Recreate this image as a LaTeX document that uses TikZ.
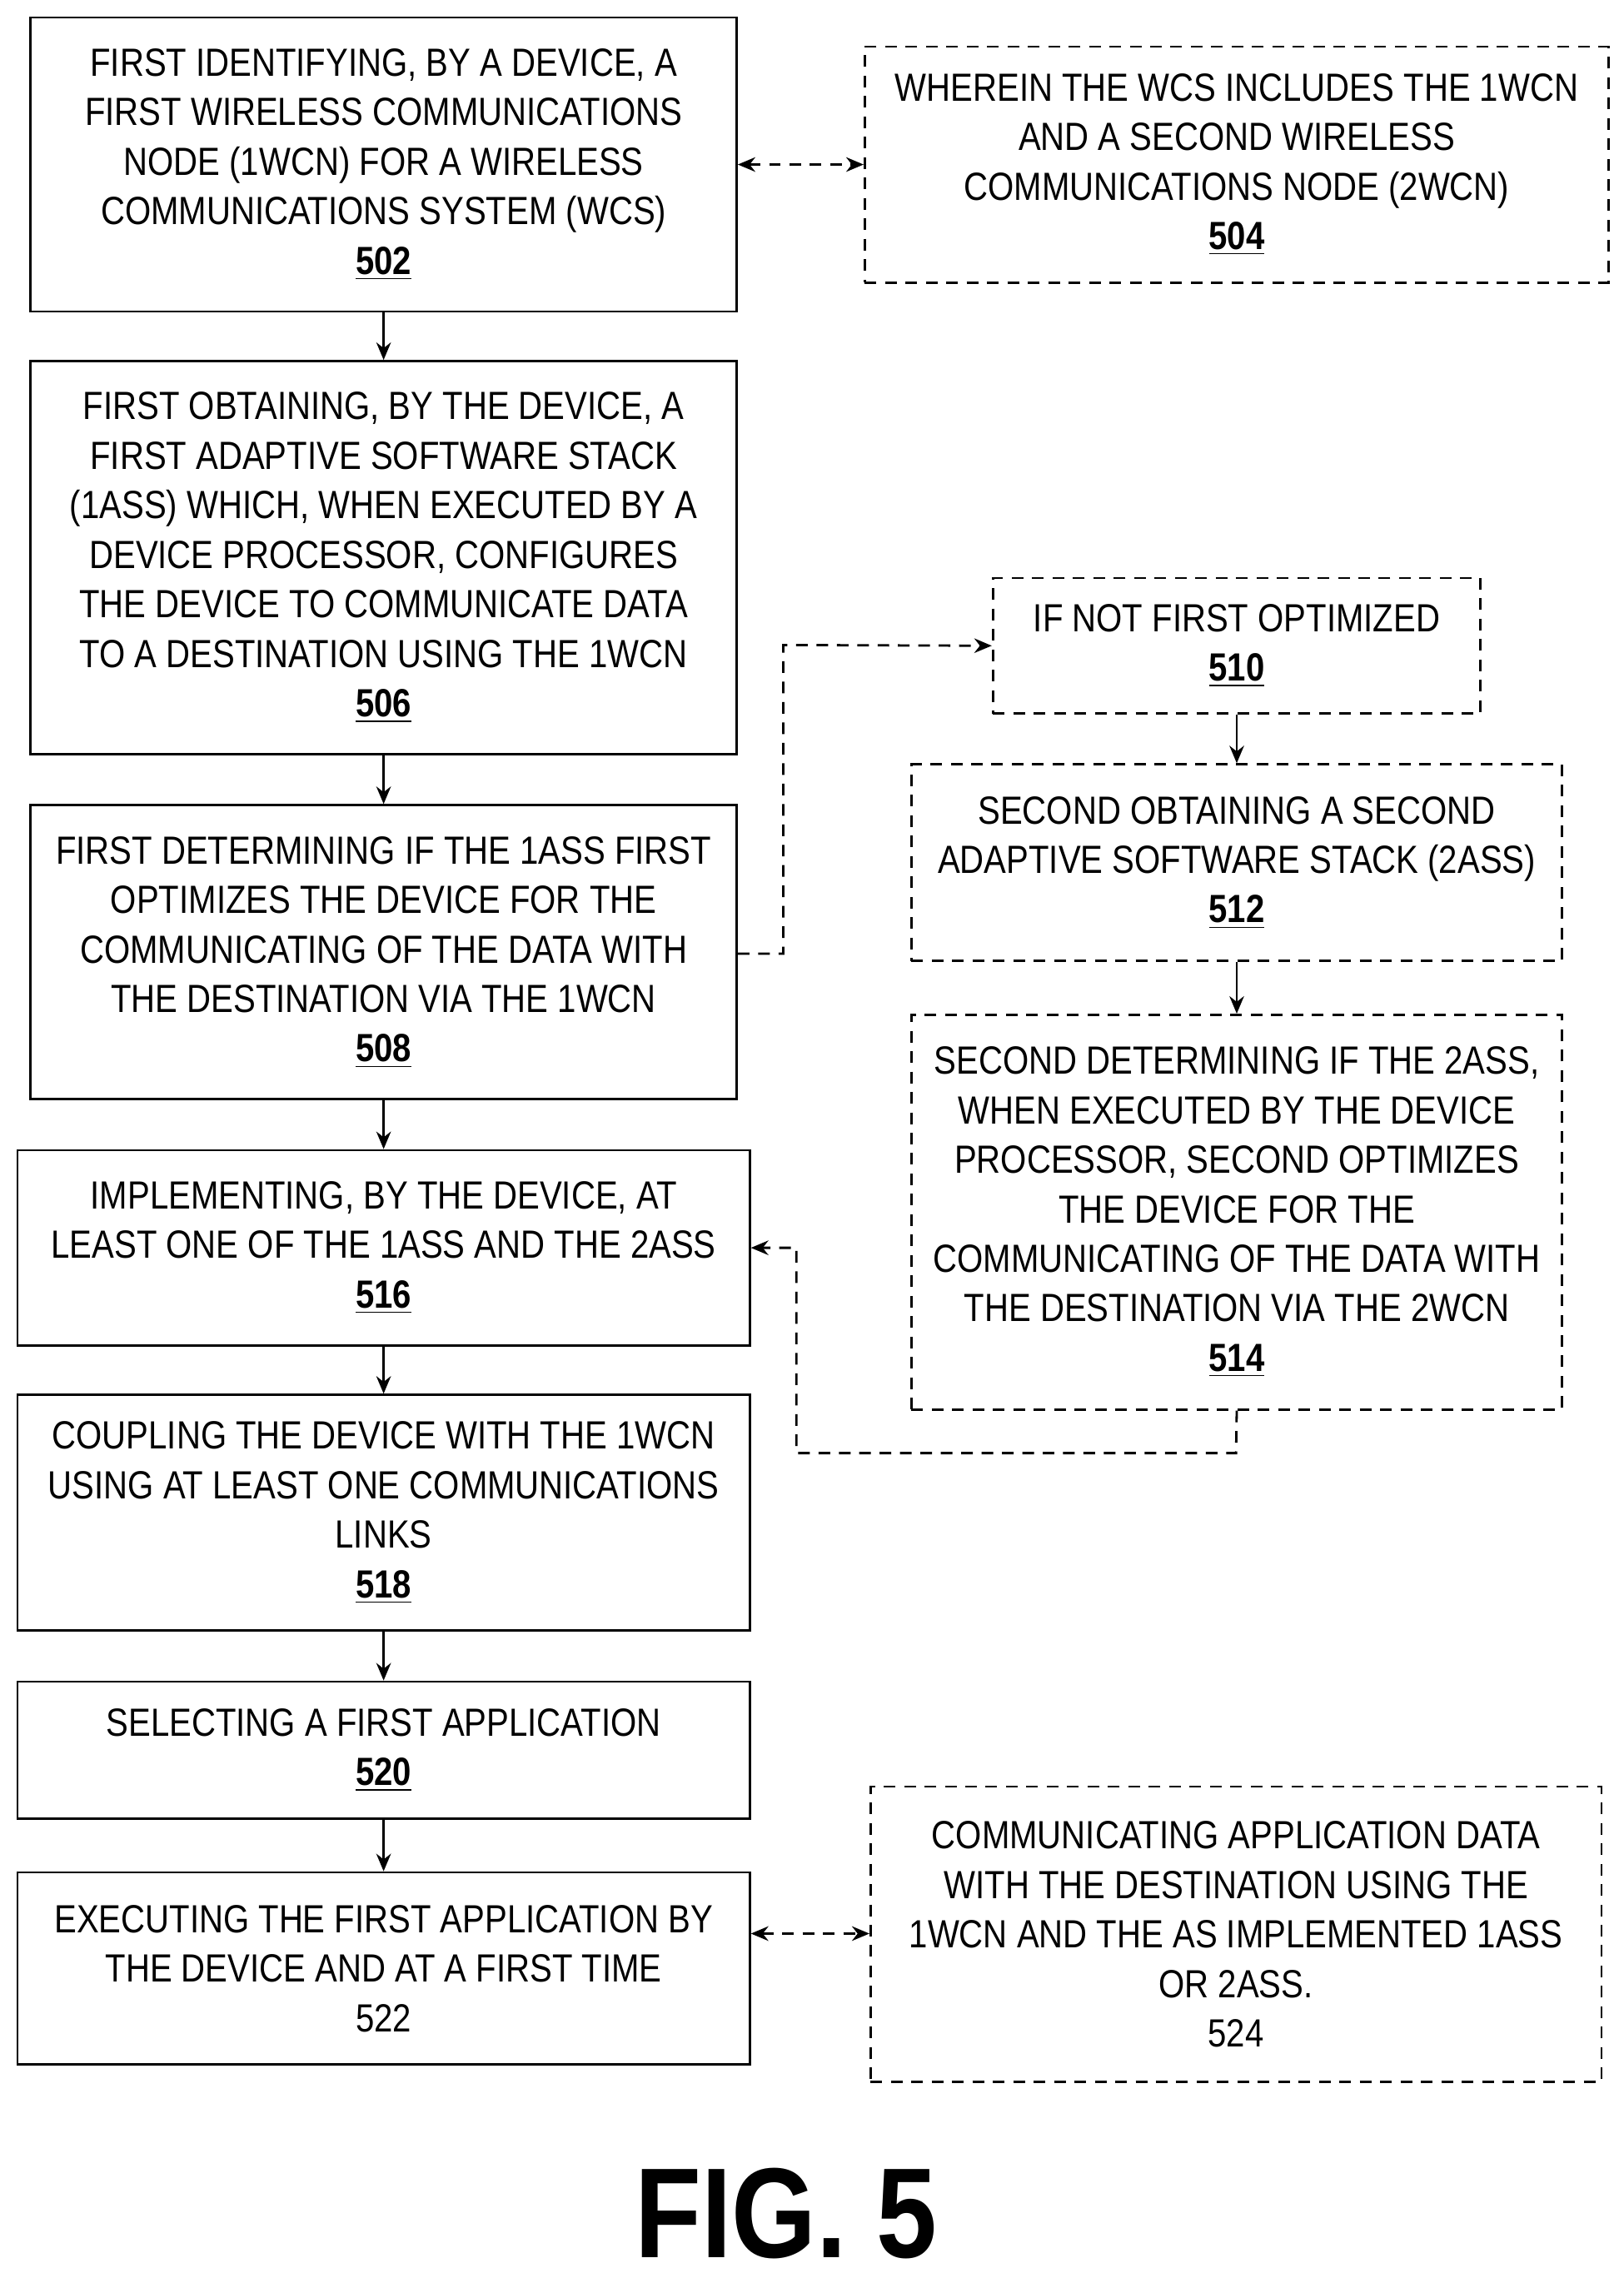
\documentclass[tikz,border=0pt]{standalone}
\usepackage{fontspec}
\setmainfont{Liberation Sans}[FakeStretch=0.85]
\usetikzlibrary{arrows.meta}
\begin{document}
\begin{tikzpicture}[x=0.5pt,y=-0.5pt,
  box/.style={draw,line width=0.8pt,align=center,inner sep=0pt,font=\fontsize{13.5}{17}\selectfont},
  dbox/.style={box,dashed,dash pattern=on 4pt off 3pt},
  arr/.style={-{Stealth[length=6pt,width=5pt]},line width=0.8pt},
  darr/.style={{Stealth[length=6pt,width=5pt]}-{Stealth[length=6pt,width=5pt]},line width=0.8pt,dash pattern=on 4pt off 3pt},
  darr1/.style={-{Stealth[length=6pt,width=5pt]},line width=0.8pt,dash pattern=on 4pt off 3pt}]
\newcommand{\nm}[1]{\underline{\textbf{#1}}}
\useasboundingbox (0,0) rectangle (1115,1568);
\node[box,minimum width=242.5pt,minimum height=101pt] (n502) at (263.5,113) {FIRST IDENTIFYING, BY A DEVICE, A\\FIRST WIRELESS COMMUNICATIONS\\NODE (1WCN) FOR A WIRELESS\\COMMUNICATIONS SYSTEM (WCS)\\\nm{502}};
\node[dbox,minimum width=255.5pt,minimum height=81pt] (n504) at (849.5,113) {WHEREIN THE WCS INCLUDES THE 1WCN\\AND A SECOND WIRELESS\\COMMUNICATIONS NODE (2WCN)\\\nm{504}};
\node[box,minimum width=242.5pt,minimum height=135pt] (n506) at (263.5,383) {FIRST OBTAINING, BY THE DEVICE, A\\FIRST ADAPTIVE SOFTWARE STACK\\(1ASS) WHICH, WHEN EXECUTED BY A\\DEVICE PROCESSOR, CONFIGURES\\THE DEVICE TO COMMUNICATE DATA\\TO A DESTINATION USING THE 1WCN\\\nm{506}};
\node[box,minimum width=242.5pt,minimum height=101pt] (n508) at (263.5,654) {FIRST DETERMINING IF THE 1ASS FIRST\\OPTIMIZES THE DEVICE FOR THE\\COMMUNICATING OF THE DATA WITH\\THE DESTINATION VIA THE 1WCN\\\nm{508}};
\node[dbox,minimum width=167.5pt,minimum height=46.5pt] (n510) at (849.5,443.5) {IF NOT FIRST OPTIMIZED\\\nm{510}};
\node[dbox,minimum width=223.5pt,minimum height=67.5pt] (n512) at (849.5,592.5) {SECOND OBTAINING A SECOND\\ADAPTIVE SOFTWARE STACK (2ASS)\\\nm{512}};
\node[dbox,minimum width=223.5pt,minimum height=135.5pt] (n514) at (849.5,832.5) {SECOND DETERMINING IF THE 2ASS,\\WHEN EXECUTED BY THE DEVICE\\PROCESSOR, SECOND OPTIMIZES\\THE DEVICE FOR THE\\COMMUNICATING OF THE DATA WITH\\THE DESTINATION VIA THE 2WCN\\\nm{514}};
\node[box,minimum width=251.5pt,minimum height=67pt] (n516) at (263.5,857) {IMPLEMENTING, BY THE DEVICE, AT\\LEAST ONE OF THE 1ASS AND THE 2ASS\\\nm{516}};
\node[box,minimum width=251.5pt,minimum height=81pt] (n518) at (263.5,1039) {COUPLING THE DEVICE WITH THE 1WCN\\USING AT LEAST ONE COMMUNICATIONS\\LINKS\\\nm{518}};
\node[box,minimum width=251.5pt,minimum height=47pt] (n520) at (263.5,1202) {SELECTING A FIRST APPLICATION\\\nm{520}};
\node[box,minimum width=251.5pt,minimum height=66pt] (n522) at (263.5,1352) {EXECUTING THE FIRST APPLICATION BY\\THE DEVICE AND AT A FIRST TIME\\522};
\node[dbox,minimum width=251pt,minimum height=101.5pt] (n524) at (849,1328.5) {COMMUNICATING APPLICATION DATA\\WITH THE DESTINATION USING THE\\1WCN AND THE AS IMPLEMENTED 1ASS\\OR 2ASS.\\524};
\node[font=\fontsize{44}{50}\selectfont\bfseries] (fig) at (540,1520) {FIG. 5};
\draw[darr] (n502.east) -- (n504.west);
\draw[darr] (n522.east|-0,1328) -- (n524.west|-0,1328);
\foreach \a/\b in {n502/n506,n506/n508,n508/n516,n516/n518,n518/n520,n520/n522}
  \draw[arr] (\a.south) -- (\b.north);
\draw[arr] (n510.south) -- (n512.north);
\draw[arr] (n512.south) -- (n514.north);
\draw[darr1] (n508.east|-0,655) -- (538,655) -- (538,443) -- (n510.west);
\draw[darr1] (n514.south) -- (849,998) -- (547,998) -- (547,857) -- (n516.east);
\end{tikzpicture}
\end{document}
